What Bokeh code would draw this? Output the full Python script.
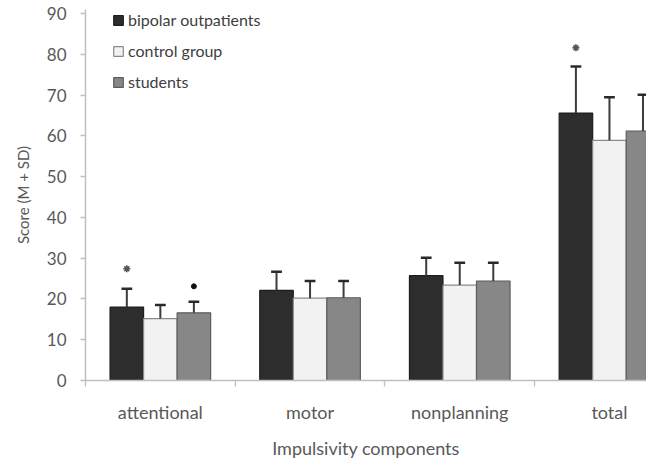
from bokeh.plotting import figure
from bokeh.models import Range1d, FixedTicker, Legend, LegendItem, ColumnDataSource
from bokeh.embed import file_html
from bokeh.resources import INLINE

# ---- data ----
categories = ["attentional", "motor", "nonplanning", "total"]
groups = ["bipolar outpatients", "control group", "students"]
bipolar_mean = [18.0, 22.1, 25.7, 65.6]
bipolar_sd = [4.5, 4.6, 4.4, 11.4]
control_mean = [15.2, 20.2, 23.4, 58.9]
control_sd = [3.3, 4.2, 5.5, 10.6]
students_mean = [16.6, 20.3, 24.4, 61.2]
students_sd = [2.7, 4.1, 4.5, 8.9]
y_ticks = [0, 10, 20, 30, 40, 50, 60, 70, 80, 90]
# significance marks: category index, group index, height, marker
sig_category = [0, 0, 3]
sig_group = [0, 2, 0]
sig_height = [27.4, 23.1, 81.6]
sig_marker = ["asterisk", "dot", "asterisk"]

means = [bipolar_mean, control_mean, students_mean]
sds = [bipolar_sd, control_sd, students_sd]
fills = ["#2d2d2d", "#f2f2f2", "#878787"]
lines = ["#1e1e1e", "#8a8a8a", "#5c5c5c"]

FONT = "Lato"
BAR_W = 0.224
CAP = 0.036
PX_X = 149.7
TOP_PAD = 9
BOTTOM_PAD = 75
FIG_H = 461
FRAME_H = FIG_H - TOP_PAD - BOTTOM_PAD
LEGEND_H = 84

p = figure(width=646, height=FIG_H, output_backend="svg", toolbar_location=None,
           x_range=Range1d(0, 561 / PX_X), y_range=Range1d(0, 91),
           min_border_left=85, min_border_right=0, min_border_top=TOP_PAD, min_border_bottom=BOTTOM_PAD)
p.outline_line_color = None
p.xgrid.visible = False
p.ygrid.visible = False
p.background_fill_color = "white"

renderers = []
for g in range(3):
    xs = [i + 0.5 + (g - 1) * BAR_W for i in range(len(categories))]
    tops = [m + s for m, s in zip(means[g], sds[g])]
    src = ColumnDataSource(dict(x=xs, top=means[g], etop=tops,
                                cl=[x - CAP for x in xs], cr=[x + CAP for x in xs]))
    r = p.vbar(x="x", top="top", bottom=0, width=BAR_W, source=src,
               fill_color=fills[g], line_color=lines[g], line_width=1.2)
    renderers.append(r)
    p.segment(x0="x", y0="top", x1="x", y1="etop", source=src, line_color="#3c3c3c", line_width=2)
    p.segment(x0="cl", y0="etop", x1="cr", y1="etop", source=src, line_color="#2a2a2a", line_width=2.5)

for c, g, h, mk in zip(sig_category, sig_group, sig_height, sig_marker):
    x = c + 0.5 + (g - 1) * BAR_W
    if mk == "asterisk":
        p.scatter([x], [h], marker="asterisk", size=7, line_color="#555555", line_width=1.6)
    else:
        p.scatter([x], [h], marker="circle", size=5, fill_color="#111111", line_color="#111111")

# axes
xa = p.xaxis[0]
xa.ticker = FixedTicker(ticks=[i + 0.5 for i in range(len(categories))],
                        minor_ticks=list(range(len(categories) + 1)))
xa.major_label_overrides = {i + 0.5: c for i, c in enumerate(categories)}
xa.major_tick_line_color = None
xa.major_tick_out = 0
xa.major_tick_in = 0
xa.minor_tick_out = 6
xa.minor_tick_in = 0
xa.minor_tick_line_color = "#bfbfbf"
xa.minor_tick_line_width = 1.3
xa.axis_line_color = "#bfbfbf"
xa.axis_line_width = 1.5
xa.major_label_standoff = 14
xa.major_label_text_font = FONT
xa.major_label_text_font_size = "18px"
xa.major_label_text_color = "#595959"
xa.axis_label = "Impulsivity components"
xa.axis_label_text_font = FONT
xa.axis_label_text_font_size = "18px"
xa.axis_label_text_font_style = "normal"
xa.axis_label_text_color = "#595959"
xa.axis_label_standoff = 11

ya = p.yaxis[0]
ya.ticker = FixedTicker(ticks=y_ticks, minor_ticks=[])
ya.major_tick_out = 5
ya.major_tick_in = 0
ya.major_tick_line_color = "#bfbfbf"
ya.major_tick_line_width = 1.3
ya.axis_line_color = "#bfbfbf"
ya.axis_line_width = 1.5
ya.major_label_standoff = 14
ya.major_label_text_font = FONT
ya.major_label_text_font_size = "17px"
ya.major_label_text_color = "#595959"
ya.axis_label = "Score (M + SD)"
ya.axis_label_text_font = FONT
ya.axis_label_text_font_size = "15px"
ya.axis_label_text_font_style = "normal"
ya.axis_label_text_color = "#595959"
ya.axis_label_standoff = 12

legend = Legend(items=[LegendItem(label=groups[g], renderers=[renderers[g]]) for g in range(3)],
                location=(27, FRAME_H - LEGEND_H - 4), orientation="vertical",
                glyph_width=12, glyph_height=12, label_height=12, label_width=10,
                spacing=12, padding=0, margin=0, label_standoff=4,
                label_text_font=FONT, label_text_font_size="16px", label_text_color="#404040",
                border_line_color=None, background_fill_alpha=0)
p.add_layout(legend)

open("out.html", "w").write(file_html(p, INLINE))
